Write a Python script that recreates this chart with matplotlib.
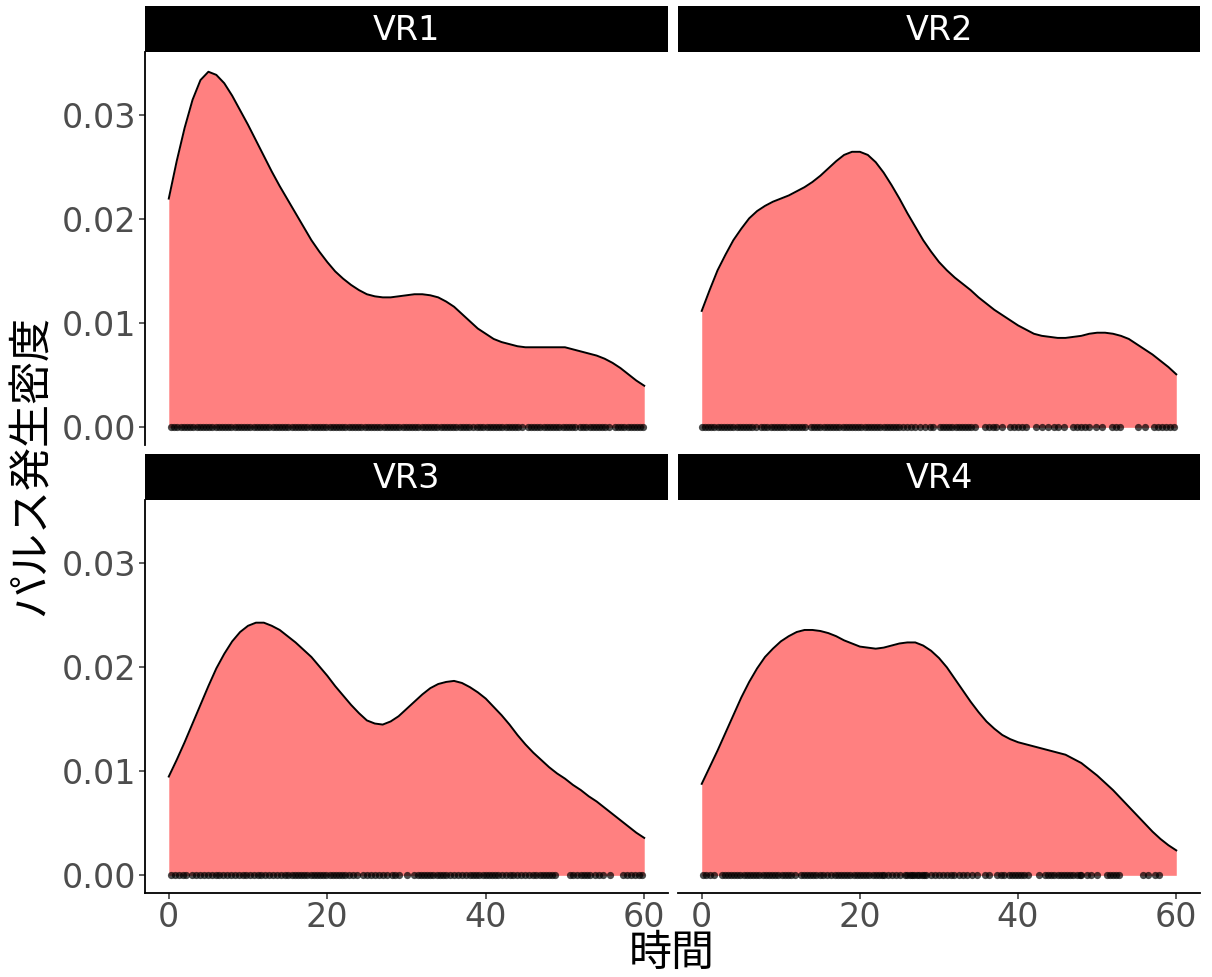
import matplotlib
matplotlib.use("Agg")
import matplotlib.pyplot as plt
import numpy as np

plt.rcParams['font.family'] = ['DejaVu Sans', 'Noto Sans CJK JP']

# Density estimate of pulse times, sampled every time unit (0..60)
time_grid = list(range(0, 61))

density_vr1 = [0.0220, 0.0256, 0.0288, 0.0315, 0.0334, 0.0342, 0.0339, 0.0331,
               0.0319, 0.0305, 0.0291, 0.0276, 0.0261, 0.0246, 0.0232, 0.0219,
               0.0206, 0.0193, 0.0180, 0.0169, 0.0159, 0.0150, 0.0143, 0.0137,
               0.0132, 0.0128, 0.0126, 0.0125, 0.0125, 0.0126, 0.0127, 0.0128,
               0.0128, 0.0127, 0.0125, 0.0121, 0.0116, 0.0109, 0.0102, 0.0095,
               0.0090, 0.0085, 0.0082, 0.0080, 0.0078, 0.0077, 0.0077, 0.0077,
               0.0077, 0.0077, 0.0077, 0.0075, 0.0073, 0.0071, 0.0069, 0.0066,
               0.0062, 0.0057, 0.0051, 0.0045, 0.0040]
density_vr2 = [0.0112, 0.0132, 0.0151, 0.0166, 0.0180, 0.0191, 0.0201, 0.0208,
               0.0213, 0.0217, 0.0220, 0.0223, 0.0227, 0.0231, 0.0236, 0.0242,
               0.0249, 0.0256, 0.0262, 0.0265, 0.0265, 0.0262, 0.0255, 0.0245,
               0.0233, 0.0220, 0.0206, 0.0193, 0.0180, 0.0169, 0.0159, 0.0151,
               0.0144, 0.0138, 0.0132, 0.0125, 0.0119, 0.0113, 0.0108, 0.0103,
               0.0098, 0.0094, 0.0090, 0.0088, 0.0087, 0.0086, 0.0086, 0.0087,
               0.0088, 0.0090, 0.0091, 0.0091, 0.0090, 0.0088, 0.0085, 0.0080,
               0.0075, 0.0070, 0.0064, 0.0058, 0.0051]
density_vr3 = [0.0095, 0.0111, 0.0128, 0.0146, 0.0164, 0.0182, 0.0199, 0.0213,
               0.0225, 0.0234, 0.0240, 0.0243, 0.0243, 0.0240, 0.0236, 0.0230,
               0.0224, 0.0217, 0.0210, 0.0201, 0.0192, 0.0182, 0.0173, 0.0164,
               0.0156, 0.0149, 0.0146, 0.0145, 0.0148, 0.0153, 0.0160, 0.0167,
               0.0174, 0.0180, 0.0184, 0.0186, 0.0187, 0.0185, 0.0181, 0.0176,
               0.0170, 0.0162, 0.0154, 0.0145, 0.0135, 0.0126, 0.0118, 0.0111,
               0.0104, 0.0098, 0.0093, 0.0087, 0.0082, 0.0076, 0.0071, 0.0065,
               0.0059, 0.0053, 0.0047, 0.0041, 0.0036]
density_vr4 = [0.0088, 0.0104, 0.0120, 0.0137, 0.0154, 0.0171, 0.0186, 0.0199,
               0.0210, 0.0218, 0.0225, 0.0230, 0.0234, 0.0236, 0.0236, 0.0235,
               0.0233, 0.0230, 0.0226, 0.0223, 0.0220, 0.0219, 0.0218, 0.0219,
               0.0221, 0.0223, 0.0224, 0.0224, 0.0221, 0.0216, 0.0209, 0.0200,
               0.0189, 0.0178, 0.0167, 0.0157, 0.0148, 0.0141, 0.0135, 0.0131,
               0.0128, 0.0126, 0.0124, 0.0122, 0.0120, 0.0118, 0.0116, 0.0112,
               0.0108, 0.0102, 0.0096, 0.0089, 0.0082, 0.0074, 0.0066, 0.0058,
               0.0050, 0.0042, 0.0035, 0.0029, 0.0024]

# Observed pulse times for each condition
pulses_vr1 = [0.3, 0.7, 1.1, 1.5, 1.9, 2.3, 2.7, 3.1, 3.5, 3.9, 4.3, 4.7, 5.1, 5.5,
              5.9, 6.3, 6.7, 7.1, 7.5, 7.9, 8.3, 8.7, 9.1, 9.5, 9.9, 10.3, 10.7,
              11.1, 11.5, 11.9, 12.3, 12.7, 13.1, 13.5, 13.9, 14.3, 14.7, 15.1,
              15.5, 15.9, 16.3, 16.7, 17.1, 17.5, 17.9, 18.3, 18.7, 19.1, 19.4,
              19.9, 20.3, 20.7, 21.1, 21.5, 21.9, 22.3, 22.7, 23.1, 23.5, 23.9,
              24.3, 24.7, 25.1, 25.5, 25.9, 26.3, 26.7, 27.1, 27.5, 27.9, 28.3,
              28.7, 29.1, 29.5, 29.9, 30.3, 30.7, 31.1, 31.5, 31.9, 32.3, 32.7,
              33.1, 33.5, 33.9, 34.3, 34.7, 35.1, 35.5, 35.9, 36.3, 36.7, 37.1,
              37.5, 37.9, 38.4, 38.9, 39.3, 39.7, 40.1, 40.5, 40.9, 41.3, 41.7,
              42.1, 42.5, 42.9, 43.3, 43.7, 44.1, 44.6, 45.3, 45.7, 46.1, 46.5,
              46.9, 47.3, 47.7, 48.1, 48.5, 48.9, 49.3, 49.7, 50.1, 50.5, 50.9,
              51.3, 51.9, 52.3, 52.7, 53.1, 53.5, 53.9, 54.3, 54.7, 55.1, 55.6,
              56.3, 56.7, 57.1, 57.5, 57.9, 58.3, 58.7, 59.1, 59.5, 59.8]
pulses_vr2 = [0.0, 0.4, 0.8, 1.2, 1.6, 2.0, 2.4, 2.8, 3.2, 3.6, 4.0, 4.4, 4.8, 5.2,
              5.6, 6.0, 6.4, 6.8, 7.5, 7.9, 8.3, 8.7, 9.1, 9.5, 9.9, 10.3, 10.7,
              11.1, 11.5, 11.9, 12.3, 12.7, 13.1, 13.8, 14.2, 14.6, 15.0, 15.4,
              15.8, 16.2, 16.6, 17.0, 17.4, 17.8, 18.2, 18.6, 19.0, 19.4, 19.8,
              20.2, 20.6, 21.0, 21.4, 21.8, 22.2, 22.6, 23.0, 23.4, 23.8, 24.2,
              24.6, 25.0, 25.5, 26.0, 26.5, 27.0, 27.6, 28.2, 28.8, 29.3, 30.1,
              30.5, 30.9, 31.3, 31.7, 32.1, 32.5, 32.9, 33.3, 33.7, 34.1, 34.6,
              35.8, 36.3, 36.8, 37.2, 38.0, 39.0, 39.5, 40.0, 40.5, 41.0, 42.3,
              43.0, 43.8, 44.5, 45.0, 45.8, 46.9, 47.4, 48.0, 48.5, 49.0, 49.9,
              50.6, 51.9, 52.4, 52.9, 55.1, 56.0, 57.2, 57.7, 58.2, 58.7, 59.2,
              59.7]
pulses_vr3 = [0.3, 0.8, 1.3, 1.8, 2.2, 2.9, 3.4, 3.9, 4.4, 4.9, 5.4, 5.9, 6.4, 6.9,
              7.4, 7.9, 8.4, 8.9, 9.4, 9.7, 10.2, 10.7, 11.2, 11.7, 12.2, 12.7,
              13.2, 13.7, 14.2, 14.7, 15.0, 15.5, 15.9, 16.3, 16.7, 17.1, 17.5,
              17.9, 18.3, 18.7, 19.1, 19.5, 19.9, 20.3, 20.7, 21.1, 21.5, 21.9,
              22.3, 22.8, 23.3, 23.7, 24.5, 25.0, 25.5, 26.0, 26.5, 27.0, 27.6,
              28.2, 28.6, 29.1, 30.0, 31.0, 31.4, 31.8, 32.2, 32.6, 33.0, 33.4,
              33.8, 34.2, 34.6, 35.0, 35.5, 36.0, 36.5, 37.0, 37.5, 38.0, 38.4,
              38.8, 39.2, 39.6, 40.0, 40.4, 40.8, 41.2, 41.6, 42.0, 42.5, 43.0,
              43.5, 44.0, 44.5, 45.0, 45.4, 46.0, 46.4, 46.8, 47.2, 47.6, 48.0,
              48.4, 48.7, 50.6, 51.0, 51.5, 52.0, 52.4, 52.8, 53.2, 53.8, 54.3,
              54.8, 55.7, 57.3, 57.8, 58.3, 58.8, 59.3, 59.7]
pulses_vr4 = [0.1, 0.6, 1.0, 1.5, 2.5, 2.9, 3.3, 3.7, 4.1, 4.5, 4.9, 5.3, 5.7, 6.1,
              6.5, 6.9, 7.3, 7.7, 8.1, 8.5, 8.9, 9.3, 9.7, 10.1, 10.5, 10.9, 11.3,
              11.8, 12.5, 12.9, 13.3, 13.7, 14.1, 14.5, 14.9, 15.3, 15.8, 16.4,
              16.8, 17.2, 17.6, 18.0, 18.4, 18.8, 19.2, 19.6, 20.0, 20.4, 20.8,
              21.2, 21.6, 22.0, 22.4, 22.8, 23.1, 23.6, 24.1, 24.6, 25.1, 25.7,
              26.0, 26.3, 26.6, 26.9, 27.2, 27.5, 27.8, 28.1, 28.4, 29.0, 29.5,
              30.0, 30.5, 31.0, 31.5, 31.9, 32.5, 33.0, 33.5, 34.2, 34.8, 35.8,
              36.3, 37.3, 37.8, 38.2, 38.8, 39.2, 39.6, 40.0, 40.4, 40.8, 41.3,
              42.6, 43.4, 43.8, 44.2, 44.6, 45.0, 45.4, 45.8, 46.2, 46.6, 47.0,
              47.4, 47.8, 48.0, 48.7, 49.2, 50.0, 51.2, 51.6, 52.0, 52.4, 52.8,
              55.8, 56.4, 57.3, 57.8]

panel_names = ["VR1", "VR2", "VR3", "VR4"]
densities = [density_vr1, density_vr2, density_vr3, density_vr4]
pulses = [pulses_vr1, pulses_vr2, pulses_vr3, pulses_vr4]

x_ticks = [0, 20, 40, 60]
y_ticks = [0.00, 0.01, 0.02, 0.03]
y_tick_labels = ["0.00", "0.01", "0.02", "0.03"]

W, H = 1212, 977
fig = plt.figure(figsize=(W / 100, H / 100), dpi=100)

# panel boxes in pixels: (left, top, right, bottom)
boxes = [(145, 52, 668, 445), (678, 52, 1200, 445),
         (145, 500, 668, 893), (678, 500, 1200, 893)]
strip_h = 46

tick_color = "#4D4D4D"
for i, (name, dens, pts, (l, t, r, b)) in enumerate(zip(panel_names, densities, pulses, boxes)):
    ax = fig.add_axes([l / W, 1 - b / H, (r - l) / W, (b - t) / H])
    ax.fill_between(time_grid, dens, 0, color="#FF8080", linewidth=0)
    ax.plot(time_grid, dens, color="black", linewidth=1.4, solid_joinstyle="round")
    ax.scatter(pts, np.zeros(len(pts)), s=27, color="black", alpha=0.7,
               linewidths=0, zorder=3)
    ax.set_xlim(-3, 63)
    ax.set_ylim(-0.0017, 0.0361)
    for sp in ax.spines.values():
        sp.set_visible(False)
    left_col = i in (0, 2)
    bottom_row = i in (2, 3)
    if left_col:
        ax.spines["left"].set_visible(True)
        ax.spines["left"].set_linewidth(1.3)
        ax.set_yticks(y_ticks)
        ax.set_yticklabels(y_tick_labels)
    else:
        ax.set_yticks([])
    if bottom_row:
        ax.spines["bottom"].set_visible(True)
        ax.spines["bottom"].set_linewidth(1.3)
        ax.set_xticks(x_ticks)
    else:
        ax.set_xticks([])
    ax.tick_params(axis="both", length=4, width=1.1, color="#333333",
                   labelcolor=tick_color, labelsize=24, pad=2)

    sax = fig.add_axes([l / W, 1 - t / H, (r - l) / W, strip_h / H])
    sax.set_facecolor("black")
    sax.set_xticks([])
    sax.set_yticks([])
    for sp in sax.spines.values():
        sp.set_visible(False)
    sax.text(0.5, 0.47, name, color="white", fontsize=24, ha="center", va="center",
             transform=sax.transAxes)

fig.text(672 / W, 1 - 954 / H, "時間", fontsize=31, ha="center", va="center",
         family=["Noto Sans CJK JP", "DejaVu Sans"])
fig.text(32 / W, 1 - 465 / H, "パルス発生密度", fontsize=31, ha="center", va="center",
         rotation=90, family=["Noto Sans CJK JP", "DejaVu Sans"])

fig.savefig("out.png", dpi=100, facecolor="white")
